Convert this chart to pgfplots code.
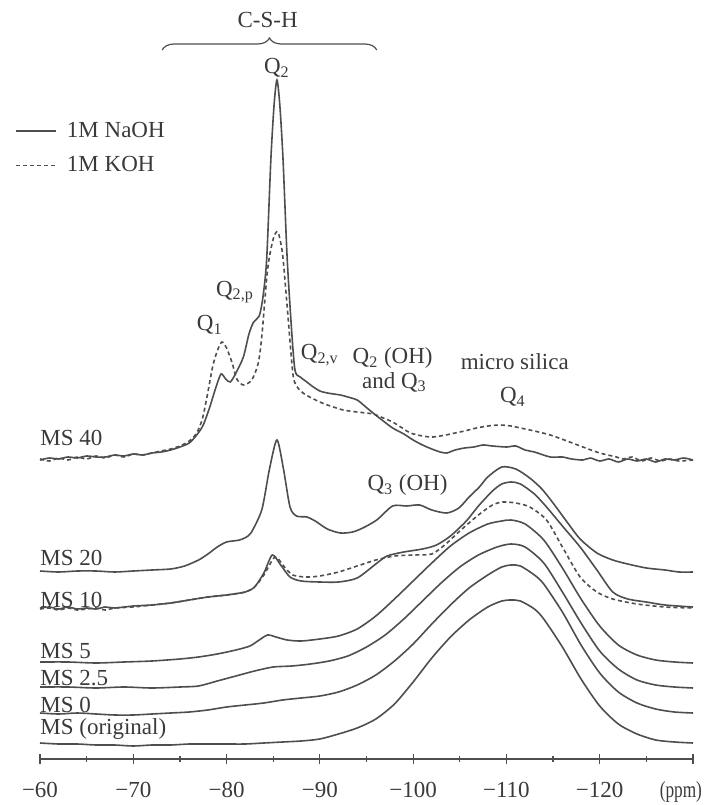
\documentclass[border=0pt]{standalone}
\usepackage{pgfplots}
\pgfplotsset{compat=1.18}
\usepackage{fontspec}
\setmainfont{Liberation Serif}
\usetikzlibrary{decorations.pathreplacing}
\definecolor{trace}{RGB}{78,78,78}
\definecolor{ink}{RGB}{58,58,58}
\newcommand{\lblfont}{\fontsize{11.5}{13}\selectfont}
\begin{document}
\begin{tikzpicture}[font=\lblfont]
\begin{axis}[
  scale only axis,
  width=326.5pt, height=379.5pt,
  x dir=reverse,
  xmin=-130, xmax=-60,
  ymin=0, ymax=759,
  axis x line=bottom,
  axis y line=none,
  axis line style={trace, line width=0.7pt, -},
  clip=false,
  xtick={-60,-70,...,-130},
  xticklabels={−60,−70,−80,−90,−100,−110,−120,{}},
  minor xtick={-65,-75,...,-125},
  extra x ticks={-128.7},
  extra x tick labels={\scalebox{0.75}[1]{(ppm)}},
  extra x tick style={tick style={draw=none}},
  tick align=center,
  major tick length=5pt,
  minor tick length=3pt,
  tick style={trace, line width=0.6pt},
  tick label style={font=\lblfont, text=ink},
  xticklabel style={anchor=north, inner sep=0pt, text height=8pt, text depth=1pt, yshift=-8.5pt},
  legend style={at={(-0.0383,0.845)}, anchor=north west, draw=none, fill=none,
    inner sep=0pt, font=\lblfont, text=ink, row sep=4pt,
    nodes={inner sep=2pt}},
  legend cell align=left,
  legend image code/.code={\draw[#1] (0pt,0pt) -- (20pt,0pt);},
  every axis plot/.append style={trace, line width=0.8pt, smooth, tension=0.45},
]
\addlegendimage{trace, line width=0.8pt}
\addlegendentry{\hspace{3pt}1M NaOH}
\addlegendimage{trace, line width=0.8pt, dash pattern=on 2pt off 1.5pt}
\addlegendentry{\hspace{3pt}1M KOH}

% MS (original)
\addplot[forget plot] coordinates {
(-60,16) (-62,15) (-64,15) (-66,14) (-68,14) (-70,13) (-72,14) (-74,14) (-76,15) (-78,15)
(-80,15) (-82,15) (-84,16) (-86,17) (-88,18) (-90,20) (-92,25) (-94,31) (-96,40) (-98,55)
(-100,77) (-102,101) (-104,122) (-106,139) (-108,152) (-109.5,158) (-110.5,159) (-111.5,158)
(-113,150) (-114,140) (-116,112) (-118,80) (-120,53) (-122,35) (-124,25) (-126,19) (-128,17) (-130,16)};

% MS 0
\addplot[forget plot] coordinates {
(-60,46) (-62,45) (-64,46) (-66,45) (-68,44) (-70,44) (-72,45) (-74,46) (-76,47) (-78,49)
(-80,52) (-82,54) (-84,56) (-86,59) (-88,61) (-90,63) (-92,67) (-94,74) (-96,84) (-98,98)
(-100,115) (-102,135) (-104,154) (-106,171) (-108,184) (-109.5,192) (-110.5,194) (-111.5,193)
(-113,184) (-114,175) (-116,147) (-118,114) (-120,86) (-122,67) (-124,56) (-126,50) (-128,47) (-130,46)};

% MS 2.5
\addplot[forget plot] coordinates {
(-60,72) (-63,72) (-66,71) (-69,72) (-72,71) (-75,72) (-77,73) (-79,78) (-81,83) (-83,88)
(-85,92) (-87,93) (-89,95) (-91,98) (-93,103) (-95,112) (-97,124) (-99,140) (-101,158) (-103,176)
(-105,192) (-107,204) (-109,212) (-110.5,215) (-112,212) (-114,196) (-116,167) (-118,136)
(-120,108) (-122,90) (-124,79) (-126,74) (-128,72) (-130,71)};

% MS 5
\addplot[forget plot] coordinates {
(-60,97) (-63,97) (-66,96) (-69,97) (-72,98) (-75,100) (-77,102) (-79,105) (-81,109) (-82.5,113)
(-83.5,119) (-84.4,124) (-85.3,122) (-86.5,119) (-88,118) (-90,120) (-92,123) (-94,130) (-96,143)
(-98,160) (-100,178) (-102,196) (-104,213) (-106,226) (-108,235) (-109.5,238) (-110.5,239)
(-112,235) (-114,219) (-116,191) (-118,160) (-120,133) (-122,114) (-124,104) (-126,99) (-128,97) (-130,96)};

% MS 10, NaOH
\addplot[forget plot] coordinates {
(-60,151) (-61,152) (-62,150) (-63,152) (-64,150) (-65,151) (-66,150) (-67,152) (-68,151) (-70,153)
(-72,154) (-74,156) (-76,159) (-78,162) (-80,164) (-82,167) (-83,172) (-84,186) (-84.9,204)
(-85.8,194) (-86.8,182) (-88,178) (-90,177) (-92,177) (-94,181) (-96,195) (-97.2,203) (-99,207)
(-101,210) (-102.5,214) (-104,223) (-105.7,238) (-107,253) (-108.5,268) (-109.5,275) (-110.5,277)
(-111.5,275) (-113,265) (-114.3,252) (-116,233) (-117.9,212) (-119.7,189) (-121.4,167) (-123,160)
(-125,157) (-127,154) (-130,152)};

% MS 10, KOH
\addplot[forget plot, dash pattern=on 2pt off 1.5pt] coordinates {
(-60,150) (-61,151) (-62,149) (-63,151) (-64,149) (-65,150) (-66,151) (-67,149) (-68,151) (-70,152)
(-72,154) (-74,156) (-76,159) (-78,162) (-80,164) (-82,167) (-83,172) (-84,184) (-85.2,202)
(-86.2,192) (-87.1,184) (-88.5,182) (-90,183) (-92,187) (-94,193) (-96,199) (-98,203) (-100,204)
(-102,205) (-103.5,215) (-105,228) (-107,244) (-108.5,254) (-109.6,257) (-111,256) (-112.5,252)
(-114.3,239) (-116,212) (-117.9,182) (-119.7,167) (-121.4,160) (-124,155) (-127,152) (-130,151)};

% MS 20
\addplot[forget plot] coordinates {
(-60,188) (-62,187) (-64,188) (-66,188) (-68,187) (-70,188) (-72,189) (-74,190) (-75.5,193) (-77,199)
(-78,205) (-79,212) (-80,217) (-81.4,219) (-82.3,223) (-82.8,229) (-83.8,250) (-84.6,290) (-85.4,319)
(-86.1,290) (-86.8,252) (-87.5,243) (-88.6,242) (-89.5,238) (-90.8,230) (-92.2,226) (-93.5,227)
(-94.6,231) (-96.1,239) (-97.8,253) (-99.3,253) (-100.7,254) (-102,249) (-103.6,246) (-104.9,251)
(-106,262) (-107.1,272) (-108,282) (-109.5,292) (-111,290) (-112.5,281) (-113.8,270) (-115,256)
(-116.5,237) (-117.9,220) (-119.7,206) (-121.4,199) (-123,195) (-125,191) (-127,189) (-128.5,187) (-130,187)};

% MS 40, NaOH
\addplot[forget plot] coordinates {
(-60,299) (-61,301) (-62,300) (-63,302) (-64,301) (-65,303) (-66,302) (-67,302) (-68,304) (-69,303)
(-70,305) (-71,304) (-72,306) (-73,307) (-74,309) (-75,312) (-76,316) (-76.8,324) (-77.5,334)
(-78.2,352) (-78.8,370) (-79.4,385) (-79.9,380) (-80.4,377) (-81,386) (-81.8,402) (-82.4,425)
(-82.9,437) (-83.5,443) (-83.9,462) (-84.3,500) (-84.75,600) (-85.1,655) (-85.4,679) (-85.7,655)
(-86.05,600) (-86.5,500) (-87.0,425) (-87.35,388) (-87.9,382) (-88.6,377) (-89.3,372) (-90,368)
(-90.8,366) (-92.2,364) (-93,362) (-94,359) (-94.8,353) (-95.7,346) (-96.8,338) (-97.8,331) (-99,325)
(-100,319) (-101,314) (-102,310) (-102.9,307) (-103.6,306) (-104.5,309) (-105.5,311) (-106.5,312)
(-107.5,314) (-108.5,313) (-110,312) (-111,313) (-112,309) (-113,307) (-114.7,302) (-116,302)
(-117,300) (-118.2,299) (-119,301) (-120,298) (-121,300) (-122,297) (-123,300) (-124,298) (-125,300)
(-126,297) (-127,300) (-128,299) (-129,301) (-130,299)};

% MS 40, KOH
\addplot[forget plot, dash pattern=on 2pt off 1.5pt] coordinates {
(-60,300) (-61,298) (-62,301) (-63,299) (-64,302) (-65,300) (-66,303) (-67,301) (-68,304) (-69,302)
(-70,305) (-71,304) (-72,306) (-73,308) (-74,310) (-75,313) (-76,318) (-76.8,326) (-77.4,340)
(-77.9,362) (-78.5,392) (-79,408) (-79.5,417) (-80,411) (-80.6,396) (-81.1,380) (-81.8,374)
(-82.7,379) (-83.4,396) (-83.8,425) (-84.4,490) (-85,520) (-85.5,527) (-86,505) (-86.5,452)
(-87.1,386) (-87.5,373) (-88.2,366) (-88.9,362) (-90,357) (-90.8,354) (-92.5,349) (-94,347)
(-95.7,345) (-96.8,341) (-97.8,337) (-99,330) (-99.7,326) (-101,323) (-102.1,322) (-103.5,324)
(-104.5,326) (-105.5,328) (-106.8,331) (-108,333) (-109.3,334) (-110.5,333) (-111.5,331) (-113,328)
(-114.7,324) (-116.5,318) (-118.2,312) (-120,306) (-121.8,302) (-122.5,300) (-123.5,302) (-124.5,298)
(-125.5,301) (-126.5,298) (-127.5,300) (-128.5,298) (-130,299)};

% sample names, set on their traces
\begin{scope}[every node/.style={anchor=base west, inner sep=0pt, text=ink, font=\lblfont}]
\node at (axis cs:-60,314) {MS 40};
\node at (axis cs:-60,194) {MS 20};
\node at (axis cs:-60,152) {MS 10};
\node at (axis cs:-60,101) {MS 5};
\node at (axis cs:-60,74) {MS 2.5};
\node at (axis cs:-60,47) {MS 0};
\node at (axis cs:-60,25) {MS (original)};
\end{scope}

% peak assignments
\begin{scope}[every node/.style={inner sep=0pt, text=ink, font=\lblfont}]
\node at (axis cs:-84.4,739) {C-S-H};
\node at (axis cs:-85.4,691) {Q\textsubscript{2}};
\node at (axis cs:-80.9,467) {Q\textsubscript{2,p}};
\node at (axis cs:-78.2,434) {Q\textsubscript{1}};
\node at (axis cs:-90.0,404) {Q\textsubscript{2,v}};
\node at (axis cs:-97.8,401) {Q\textsubscript{2} (OH)};
\node at (axis cs:-98.0,377) {and Q\textsubscript{3}};
\node at (axis cs:-110.9,397) {micro silica};
\node at (axis cs:-110.7,362) {Q\textsubscript{4}};
\node at (axis cs:-99.4,274) {Q\textsubscript{3} (OH)};
\end{scope}
\draw[trace, line width=0.6pt, decorate, decoration={brace, amplitude=6pt}]
  (axis cs:-73.1,709) -- (axis cs:-96.1,709);

\coordinate (bbA) at (axis cs:-55.71,-46);
\coordinate (bbB) at (axis cs:-131.38,759);
\end{axis}
\pgfresetboundingbox
\useasboundingbox (bbA) rectangle (bbB);
\end{tikzpicture}
\end{document}
